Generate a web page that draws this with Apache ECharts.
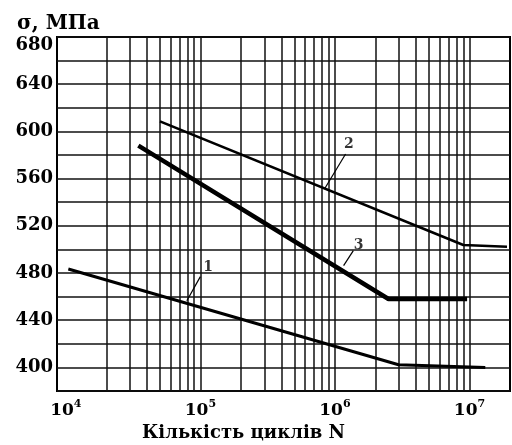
<!DOCTYPE html>
<html><head><meta charset="utf-8">
<script src="https://cdn.jsdelivr.net/npm/echarts@6/dist/echarts.min.js"></script>
<style>html,body{margin:0;padding:0;background:#fff}#c{width:512px;height:445px}</style>
</head><body><div id="c"></div>
<script>
// ---- data ----
const yLabelValues = [400, 440, 480, 520, 560, 600, 640, 680];
const xLabelPowers = [4, 5, 6, 7];
const gridN = [2e4,3e4,4e4,5e4,6e4,7e4,8e4,9e4,1e5,
               2e5,3e5,4e5,5e5,6e5,7e5,8e5,9e5,1e6,
               2e6,3e6,4e6,5e6,6e6,7e6,8e6,9e6,1e7];
const curve1N = [10440, 2.97e6, 1.31e7];
const curve1S = [483.4, 402.3, 400];
const curve2N = [5.01e4, 9.0e6, 1.9e7];
const curve2S = [608.5, 503.7, 502.3];
const curve3N = [3.46e4, 2.5e6, 9.6e6];
const curve3S = [587.9, 458, 458];
const curveNames = ['1', '2', '3'];
const leaderN = [[7.93e4, 1.0e5], [8.36e5, 1.20e6], [1.16e6, 1.37e6]];
const leaderS = [[456.5, 476.9], [551.2, 580.8], [486.2, 498.9]];
const labelN = [1.14e5, 1.27e6, 1.50e6];
const labelS = [484.5, 588.7, 503.1];
const yTitle = 'σ, МПа';
const xTitle = 'Кількість циклів N';

const FONT = 'DejaVu Serif';
const zip = (a, b) => a.map((v, i) => [v, b[i]]);
const chart = echarts.init(document.getElementById('c'), null, {renderer: 'canvas'});

const series = [
  {type: 'line', data: zip(curve1N, curve1S), symbol: 'none', lineStyle: {color: '#000', width: 3}, z: 5,
   markLine: {silent: true, symbol: 'none', animation: false, label: {show: false},
     lineStyle: {color: '#111', width: 1.5, type: 'solid'},
     data: gridN.map(v => ({xAxis: v}))}},
  {type: 'line', data: zip(curve2N, curve2S), symbol: 'none', lineStyle: {color: '#000', width: 2.6}, z: 5},
  {type: 'line', data: zip(curve3N, curve3S), symbol: 'none', lineStyle: {color: '#000', width: 4.5}, z: 5}
];
leaderN.forEach((ln, i) => {
  series.push({type: 'line', data: zip(ln, leaderS[i]), symbol: 'none', lineStyle: {color: '#000', width: 1.2}, z: 6});
});
series.push({
  type: 'scatter', symbolSize: 1, itemStyle: {color: 'rgba(0,0,0,0)'}, z: 7,
  data: labelN.map((n, i) => ({value: [n, labelS[i]], name: curveNames[i]})),
  label: {show: true, position: 'inside', formatter: p => p.name, color: '#000',
          fontFamily: FONT, fontWeight: 'bold', fontSize: 14}
});

chart.setOption({
  animation: false,
  backgroundColor: '#fff',
  grid: {left: 57, right: 2, top: 37, bottom: 54, show: true, borderColor: '#000', borderWidth: 2, backgroundColor: 'transparent'},
  xAxis: {
    type: 'log', logBase: 10, min: 8600, max: 2.0e7,
    axisLine: {show: false}, axisTick: {show: false}, splitLine: {show: false},
    axisLabel: {
      margin: 8, showMinLabel: true, showMaxLabel: false,
      formatter: v => {
        const p = Math.round(Math.log10(v));
        if (Math.abs(Math.log10(v) - p) > 1e-6 || xLabelPowers.indexOf(p) < 0) return '';
        return '{b|10}{s|' + p + '}';
      },
      rich: {
        b: {fontFamily: FONT, fontWeight: 'bold', fontSize: 17, color: '#000', verticalAlign: 'bottom', lineHeight: 20},
        s: {fontFamily: FONT, fontWeight: 'bold', fontSize: 11, color: '#000', verticalAlign: 'top', lineHeight: 20, padding: [0, 0, 8, 0]}
      }
    }
  },
  yAxis: {
    type: 'value', min: 380, max: 680, interval: 20,
    axisLine: {show: false}, axisTick: {show: false},
    splitLine: {show: true, lineStyle: {color: '#111', width: 1.5}},
    axisLabel: {
      margin: 4,
      formatter: v => yLabelValues.indexOf(v) < 0 ? '' : (v === 680 ? '{t|' + v + '}' : '{n|' + v + '}'),
      rich: {
        n: {fontFamily: FONT, fontWeight: 'bold', fontSize: 18, color: '#000'},
        t: {fontFamily: FONT, fontWeight: 'bold', fontSize: 18, color: '#000', padding: [16, 0, 0, 0]}
      }
    }
  },
  graphic: [
    {type: 'text', left: 17, top: 14, style: {text: yTitle, font: 'bold 20px "DejaVu Serif"', fill: '#000'}},
    {type: 'text', left: 142, top: 424, style: {text: xTitle, font: 'bold 18px "DejaVu Serif"', fill: '#000'}}
  ],
  series: series
});
</script></body></html>
